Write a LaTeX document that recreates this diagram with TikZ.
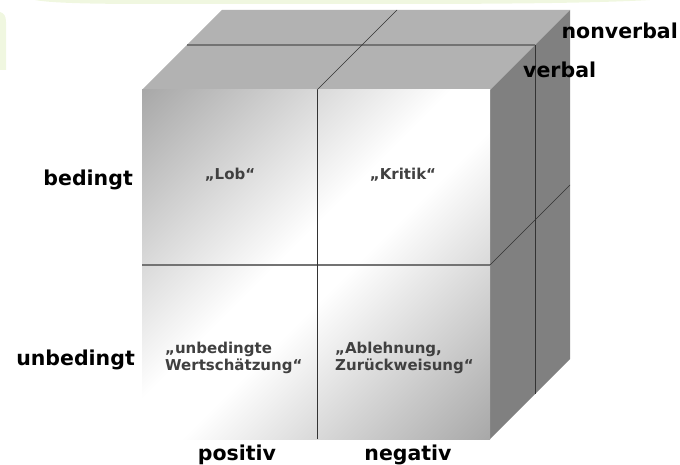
\documentclass[tikz,border=0pt]{standalone}
\usepackage{fontspec}
\setmainfont{DejaVu Sans}

% gray -> white band -> gray, laid along the diagonal of the front face
\pgfdeclareverticalshading{frontface}{100bp}{
  rgb(0bp)=(0.66,0.66,0.66);
  rgb(14.64bp)=(0.66,0.66,0.66);
  rgb(46bp)=(1,1,1);
  rgb(54bp)=(1,1,1);
  rgb(85.36bp)=(0.66,0.66,0.66);
  rgb(100bp)=(0.66,0.66,0.66)}

\definecolor{topgray}{gray}{0.70}
\definecolor{sidegray}{gray}{0.50}
\definecolor{celltext}{gray}{0.25}
\definecolor{washgreen}{rgb}{0.94,0.97,0.88}

\tikzset{
  axislabel/.style={font=\bfseries\fontsize{20.5}{24}\selectfont, text=black, inner sep=0pt},
  celllabel/.style={font=\bfseries\fontsize{15}{17}\selectfont, text=celltext, inner sep=0pt, align=left},
  splitline/.style={draw=black!80, line width=0.8pt},
  depthline/.style={draw=black!55, line width=1.4pt},
  midline/.style={draw=black!55, line width=1.1pt},
}

\begin{document}
\begin{tikzpicture}[x=1pt, y=-1pt]
  \useasboundingbox (0,0) rectangle (680,465);

  % faint green wash in the page background
  \fill[washgreen] (35,0) -- (650,0) .. controls (600,3) and (500,4) .. (400,4)
        -- (150,4) .. controls (90,4) and (50,3) .. cycle;
  \fill[washgreen] (0,12) .. controls (4,13) and (6,16) .. (6,22) -- (6,70) -- (0,70) -- cycle;

  % cube corners
  \coordinate (ftl) at (142,90);
  \coordinate (ftr) at (490,90);
  \coordinate (fbr) at (490,439);
  \coordinate (fbl) at (142,439);
  \coordinate (btl) at (222,10);
  \coordinate (btr) at (570,10);
  \coordinate (bbr) at (570,359);

  % top and right faces
  \fill[topgray] (ftl) -- (btl) -- (btr) -- (ftr) -- cycle;
  \fill[sidegray] (ftr) -- (btr) -- (bbr) -- (fbr) -- cycle;

  % front face
  \shade[shading=frontface, shading angle=45] (ftl) rectangle (fbr);

  % division points
  \coordinate (fmt) at (317,90);
  \coordinate (fmb) at (317,439);
  \coordinate (fml) at (142,265);
  \coordinate (fmr) at (490,265);
  \coordinate (bmt) at (397,10);
  \coordinate (bmr) at (570,185);
  \coordinate (dtl) at (187,45);
  \coordinate (dtr) at (535,45);
  \coordinate (dbr) at (535,394);

  % lines splitting the cube into eight blocks
  \draw[depthline] (dtl) -- (dtr);
  \draw[splitline] (dtr) -- (dbr);
  \draw[midline] (fml) -- (fmr);
  \draw[splitline] (fmt) -- (fmb);
  \draw[splitline, line width=0.6pt] (fmt) -- (bmt);
  \draw[splitline, line width=0.6pt] (fmr) -- (bmr);

  % cell texts
  \node[celllabel, anchor=base] (lob) at (230,180) {„Lob“};
  \node[celllabel, anchor=base] (kritik) at (403,180) {„Kritik“};
  \node[celllabel, anchor=base west] (wert) at (165,370) {„unbedingte\\Wertschätzung“};
  \node[celllabel, anchor=base west] (ablehn) at (335,370) {„Ablehnung,\\Zurückweisung“};

  % axis labels
  \node[axislabel, anchor=base east] (bed) at (133,186) {bedingt};
  \node[axislabel, anchor=base east] (unbed) at (135,365) {unbedingt};
  \node[axislabel, anchor=base] (pos) at (237,460) {positiv};
  \node[axislabel, anchor=base] (neg) at (408,460) {negativ};
  \node[axislabel, anchor=base east] (nonverb) at (678,39) {nonverbal};
  \node[axislabel, anchor=base west] (verb) at (523,78) {verbal};
\end{tikzpicture}
\end{document}
